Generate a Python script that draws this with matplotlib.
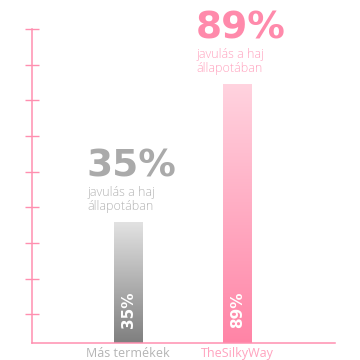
import numpy as np
import matplotlib.pyplot as plt
from matplotlib.colors import LinearSegmentedColormap

# adatok
kategoriak = ["Más termékek", "TheSilkyWay"]
ertekek = [35, 89]
cimkek = ["35%", "89%"]
alcim = "javulás a haj\nállapotában"

# színek
szin_fo = ["#aaaaaa", "#ff8aab"]
szin_al = ["#b4b4b4", "#ffa3bf"]
grad_fent = ["#e2e2e2", "#ffd3df"]
grad_lent = ["#7f7f7f", "#ff84a6"]
tengely = "#ff8fb0"

fig = plt.figure(figsize=(3.6, 3.6), dpi=100)
ax = fig.add_axes([0.089, 0.047, 0.842, 0.872])

y_also, y_felso = -12.3, 110.5
ax.set_xlim(-0.88, 1.89)
ax.set_ylim(y_also, y_felso)

szel = 0.265
for i, v in enumerate(ertekek):
    # átmenetes oszlop
    cmap = LinearSegmentedColormap.from_list("g", [grad_lent[i], grad_fent[i]])
    grad = np.linspace(0, 1, 256).reshape(-1, 1)
    ax.imshow(grad, cmap=cmap, origin="lower", aspect="auto",
              extent=[i - szel / 2, i + szel / 2, y_also, v], zorder=2)

    # felirat az oszlopban
    ax.annotate(cimkek[i], xy=(i, y_also), xytext=(0, 11), textcoords="offset points",
                rotation=90, ha="center", va="bottom", color="white",
                fontsize=11, fontweight="bold", zorder=3)

    # alcím és nagy szám az oszlop felett
    ax.annotate(alcim, xy=(i, v), xytext=(-29.5, 6.5), textcoords="offset points",
                ha="left", va="bottom", color=szin_al[i], fontsize=9,
                family="Open Sans", fontweight="light", linespacing=1.1)
    ax.annotate(cimkek[i], xy=(i, v), xytext=(-30.5, 33), textcoords="offset points",
                ha="left", va="baseline", color=szin_fo[i], fontsize=27,
                fontweight="bold")

ax.set_xticks(range(len(kategoriak)))
ax.set_xticklabels(kategoriak, fontsize=9, family="Open Sans")
for lbl, c in zip(ax.get_xticklabels(), szin_al):
    lbl.set_color(c)
ax.tick_params(axis="x", length=0, pad=3)

ax.set_yticks(np.linspace(y_also + (y_felso - y_also) * 0.092, y_felso, 9))
ax.set_yticklabels([])
ax.tick_params(axis="y", direction="inout", length=10, width=1, color=tengely)

for s in ["top", "right"]:
    ax.spines[s].set_visible(False)
for s in ["left", "bottom"]:
    ax.spines[s].set_color(tengely)
    ax.spines[s].set_linewidth(1.1)

plt.savefig("out.png", dpi=100)
